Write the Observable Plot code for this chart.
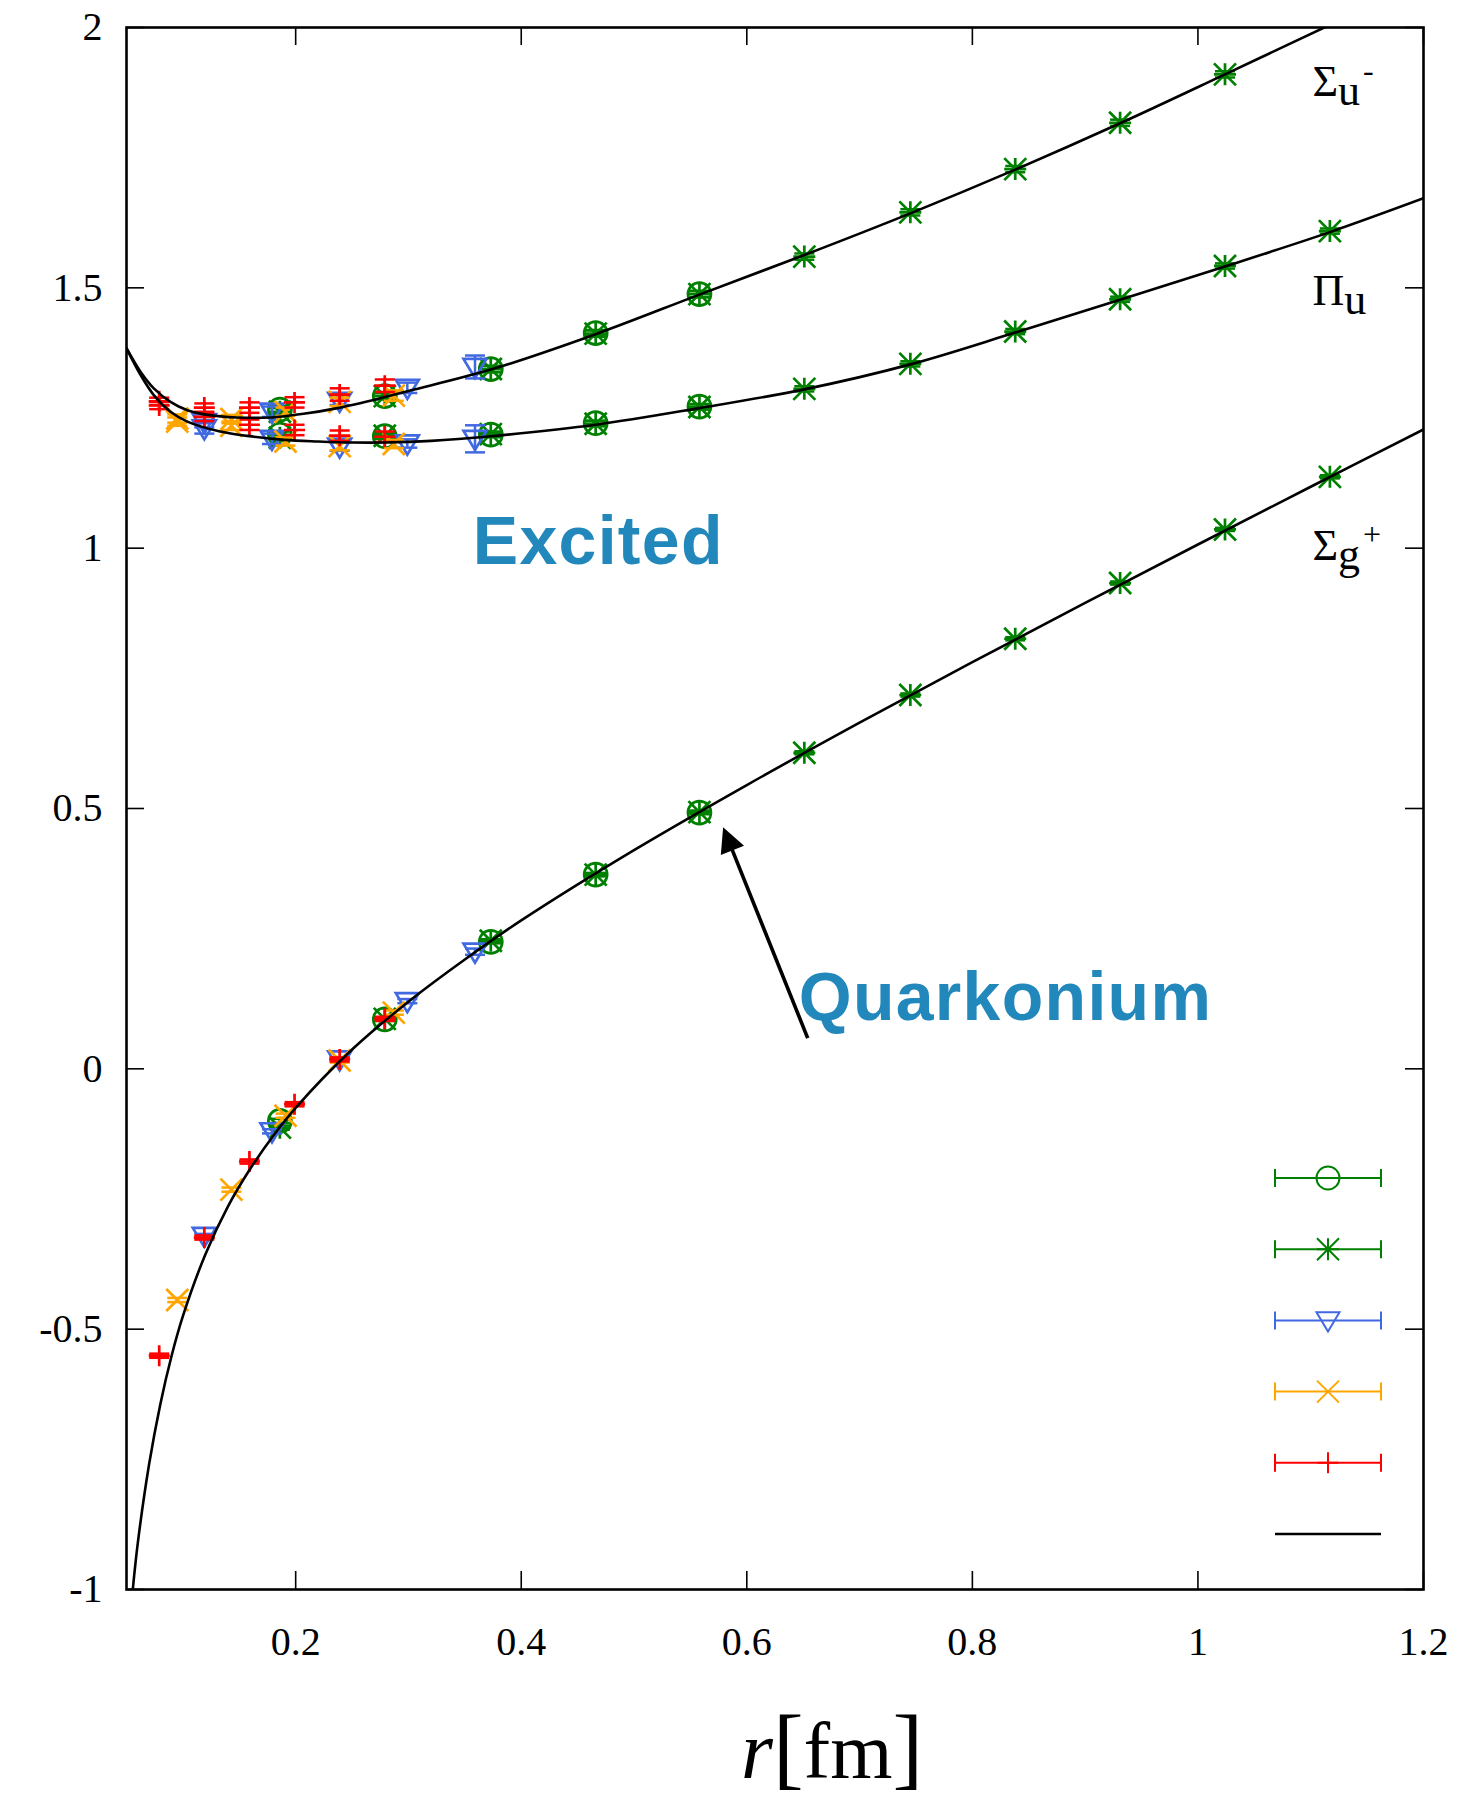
<!DOCTYPE html>
<html>
<head>
<meta charset="utf-8">
<script src="https://cdn.jsdelivr.net/npm/d3@7"></script>
<script src="https://cdn.jsdelivr.net/npm/@observablehq/plot@0.6"></script>
<style>
  html, body { margin: 0; padding: 0; background: #fff; }
  #chart svg { display: block; }
</style>
</head>
<body>
<div id="chart"></div>
<script>
// ---------------- data ----------------
const xTicks = [0.2, 0.4, 0.6, 0.8, 1, 1.2];
const yTicks = [-1, -0.5, 0, 0.5, 1, 1.5, 2];

// green open circles
const circR     = [0.186, 0.279, 0.373, 0.466, 0.558];
const circSg    = [-0.100, 0.095, 0.244, 0.373, 0.492];
const circPi    = [1.218, 1.215, 1.218, 1.240, 1.272];
const circSu    = [1.266, 1.292, 1.344, 1.413, 1.488];
const circErrSg = [0.004, 0.003, 0.003, 0.003, 0.003];
const circErrPi = [0.006, 0.005, 0.005, 0.005, 0.005];
const circErrSu = [0.007, 0.006, 0.006, 0.006, 0.006];

// green asterisks
const starR     = [0.186, 0.279, 0.373, 0.466, 0.558, 0.651, 0.745, 0.838, 0.931, 1.024, 1.117];
const starSg    = [-0.113, 0.096, 0.246, 0.373, 0.493, 0.607, 0.718, 0.826, 0.933, 1.036, 1.137];
const starPi    = [1.212, 1.216, 1.219, 1.239, 1.271, 1.306, 1.354, 1.416, 1.478, 1.542, 1.609];
const starSu    = [1.262, 1.292, 1.344, 1.412, 1.488, 1.560, 1.645, 1.728, 1.817, 1.910, null];
const starErrSg = [0.004, 0.003, 0.003, 0.003, 0.003, 0.003, 0.003, 0.003, 0.003, 0.003, 0.003];
const starErrPi = [0.006, 0.005, 0.005, 0.005, 0.005, 0.005, 0.005, 0.005, 0.005, 0.005, 0.005];
const starErrSu = [0.007, 0.006, 0.006, 0.006, 0.006, 0.006, 0.006, 0.006, 0.006, 0.006, 0.006];

// blue down-triangles
const triR      = [0.119, 0.179, 0.239, 0.299, 0.359];
const triSg     = [-0.321, -0.120, 0.018, 0.130, 0.225];
const triPi     = [1.230, 1.210, 1.195, 1.201, 1.210];
const triSu     = [1.242, 1.262, 1.283, 1.308, 1.348];
const triErrSg  = [0.004, 0.004, 0.004, 0.004, 0.006];
const triErrPi  = [0.010, 0.010, 0.008, 0.008, 0.026];
const triErrSu  = [0.010, 0.010, 0.008, 0.010, 0.022];

// orange crosses
const xR        = [0.095, 0.143, 0.191, 0.239, 0.287];
const xSg       = [-0.444, -0.232, -0.090, 0.016, 0.108];
const xPi       = [1.243, 1.235, 1.205, 1.196, 1.200];
const xSu       = [1.249, 1.248, 1.262, 1.281, 1.293];
const xErrSg    = [0.004, 0.004, 0.004, 0.004, 0.004];
const xErrPi    = [0.008, 0.008, 0.008, 0.008, 0.008];
const xErrSu    = [0.008, 0.008, 0.008, 0.008, 0.010];

// red pluses
const plusR     = [0.079, 0.119, 0.159, 0.199, 0.239, 0.279];
const plusSg    = [-0.551, -0.324, -0.178, -0.068, 0.018, 0.096];
const plusPi    = [1.274, 1.252, 1.237, 1.227, 1.216, 1.214];
const plusSu    = [1.282, 1.270, 1.270, 1.280, 1.295, 1.312];
const plusErrSg = [0.004, 0.004, 0.004, 0.004, 0.004, 0.004];
const plusErrPi = [0.007, 0.008, 0.010, 0.010, 0.010, 0.010];
const plusErrSu = [0.007, 0.008, 0.010, 0.010, 0.012, 0.012];

// fitted curves
const sgCurveR = [0.055, 0.06, 0.07, 0.08, 0.09, 0.10, 0.12, 0.14, 0.16, 0.18, 0.20, 0.25, 0.30, 0.35, 0.40, 0.50, 0.60, 0.70, 0.80, 0.90, 1.00, 1.10, 1.20];
const sgCurveV = [-1.013, -0.911, -0.760, -0.644, -0.551, -0.475, -0.356, -0.264, -0.191, -0.129, -0.075, 0.037, 0.129, 0.210, 0.285, 0.420, 0.545, 0.665, 0.781, 0.895, 1.007, 1.118, 1.228];

const piCurveR = [0.05, 0.0624, 0.0742, 0.089, 0.104, 0.133, 0.163, 0.19, 0.22, 0.25, 0.28, 0.32, 0.373, 0.466, 0.558, 0.651, 0.745, 0.838, 0.931, 1.024, 1.117, 1.2];
const piCurveV = [1.384, 1.333, 1.294, 1.262, 1.243, 1.224, 1.214, 1.208, 1.205, 1.203, 1.203, 1.206, 1.215, 1.237, 1.269, 1.305, 1.353, 1.414, 1.477, 1.541, 1.607, 1.672];

const suCurveR = [0.05, 0.0624, 0.0742, 0.089, 0.104, 0.122, 0.148, 0.178, 0.207, 0.237, 0.275, 0.30, 0.373, 0.466, 0.558, 0.651, 0.745, 0.838, 0.931, 1.024, 1.117, 1.2];
const suCurveV = [1.384, 1.339, 1.307, 1.281, 1.265, 1.256, 1.251, 1.251, 1.258, 1.269, 1.288, 1.302, 1.343, 1.411, 1.487, 1.563, 1.643, 1.727, 1.816, 1.910, 2.005, 2.09];

// annotations (data coordinates)
const wordLabels  = ["Excited", "Quarkonium"];
const wordX       = [0.357, 0.646];
const wordY       = [0.970, 0.094];
const arrowFrom   = [0.654, 0.059];
const arrowTo     = [0.579, 0.464];
const stateNames  = ["Σ", "Π", "Σ"];
const stateSubs   = ["u", "u", "g"];
const stateSups   = ["-", "", "+"];
const stateX      = [1.102, 1.102, 1.102];
const stateY      = [1.868, 1.467, 0.977];

// ---------------- layout / styles ----------------
const W = 1461, H = 1798;
const mL = 126, mR = 38, mT = 27, mB = 209;
const plotW = W - mL - mR, plotH = H - mT - mB;
const green = "#008000", blue = "#4169e1", orange = "#ffa500", red = "#ff0000";
const serif = "'Liberation Serif', 'Times New Roman', serif";

function mkSym(fn) { return { draw(c, size) { fn(c, Math.sqrt(size / Math.PI)); } }; }
const symCircle  = mkSym((c, h) => { c.moveTo(h, 0); c.arc(0, 0, h, 0, 2 * Math.PI); });
const symPlus    = mkSym((c, h) => { c.moveTo(-h, 0); c.lineTo(h, 0); c.moveTo(0, -h); c.lineTo(0, h); });
const symTimes   = mkSym((c, h) => { c.moveTo(-h, -h); c.lineTo(h, h); c.moveTo(-h, h); c.lineTo(h, -h); });
const symStar    = mkSym((c, h) => { c.moveTo(-h, 0); c.lineTo(h, 0); c.moveTo(0, -h); c.lineTo(0, h);
                                     c.moveTo(-h, -h); c.lineTo(h, h); c.moveTo(-h, h); c.lineTo(h, -h); });
const symTriDown = mkSym((c, h) => { c.moveTo(-h, -0.7 * h); c.lineTo(h, -0.7 * h); c.lineTo(0, 0.96 * h); c.closePath(); });
const symCap     = mkSym((c, h) => { c.moveTo(-h, 0); c.lineTo(h, 0); });
const symHead    = { draw(c) { c.moveTo(0, 0); c.lineTo(-12.5, 25); c.lineTo(12.5, 25); c.closePath(); } };

const seriesDefs = [
  {color: green,  sym: symCircle,  r: 11.5, R: circR, states: [[circSg, circErrSg], [circPi, circErrPi], [circSu, circErrSu]]},
  {color: green,  sym: symStar,    r: 11,   R: starR, states: [[starSg, starErrSg], [starPi, starErrPi], [starSu, starErrSu]]},
  {color: blue,   sym: symTriDown, r: 11.5, R: triR,  states: [[triSg, triErrSg], [triPi, triErrPi], [triSu, triErrSu]]},
  {color: orange, sym: symTimes,   r: 11,   R: xR,    states: [[xSg, xErrSg], [xPi, xErrPi], [xSu, xErrSu]]},
  {color: red,    sym: symPlus,    r: 10.5, R: plusR, states: [[plusSg, plusErrSg], [plusPi, plusErrPi], [plusSu, plusErrSu]]}
];

function toRows(R, V, E) {
  return R.map((r, i) => ({r, v: V[i], e: E[i]})).filter(d => d.v != null);
}
const curveRows = (R, V) => R.map((r, i) => ({r, v: V[i]}));

const marks = [];
for (const s of seriesDefs) {
  const data = s.states.flatMap(([V, E]) => toRows(s.R, V, E));
  marks.push(
    Plot.ruleX(data, {x: "r", y1: d => d.v - d.e, y2: d => d.v + d.e, stroke: s.color, strokeWidth: 2.5}),
    Plot.dot(data, {x: "r", y: d => d.v - d.e, symbol: symCap, r: 10, stroke: s.color, fill: "none", strokeWidth: 2.5}),
    Plot.dot(data, {x: "r", y: d => d.v + d.e, symbol: symCap, r: 10, stroke: s.color, fill: "none", strokeWidth: 2.5}),
    Plot.dot(data, {x: "r", y: "v", symbol: s.sym, r: s.r, stroke: s.color, fill: "none", strokeWidth: 2.7})
  );
}
for (const [R, V] of [[sgCurveR, sgCurveV], [piCurveR, piCurveV], [suCurveR, suCurveV]]) {
  marks.push(Plot.line(curveRows(R, V), {x: "r", y: "v", curve: "catmull-rom", stroke: "black", strokeWidth: 2.6, clip: true}));
}

// arrow: shaft + filled head
const pxPerX = plotW / 1.15, pxPerY = plotH / 3;
const adx = (arrowTo[0] - arrowFrom[0]) * pxPerX, ady = -(arrowTo[1] - arrowFrom[1]) * pxPerY;
const alen = Math.hypot(adx, ady);
const angle = Math.atan2(adx, -ady) * 180 / Math.PI;
const shaftEnd = [arrowTo[0] - (arrowTo[0] - arrowFrom[0]) * 22 / alen, arrowTo[1] - (arrowTo[1] - arrowFrom[1]) * 22 / alen];
marks.push(
  Plot.link([0], {x1: () => arrowFrom[0], y1: () => arrowFrom[1], x2: () => shaftEnd[0], y2: () => shaftEnd[1], stroke: "black", strokeWidth: 3.6}),
  Plot.dot([0], {x: () => arrowTo[0], y: () => arrowTo[1], symbol: symHead, r: 10, rotate: angle, fill: "black", stroke: "none"})
);

// word labels
marks.push(Plot.text(wordLabels, {
  x: (d, i) => wordX[i], y: (d, i) => wordY[i], text: d => d,
  fontSize: 68, fontWeight: "bold", fontFamily: "'Liberation Sans', Arial, sans-serif",
  fill: "#2288bb", textAnchor: "start", lineAnchor: "bottom"
}));

// inward ticks on all four sides
marks.push(
  Plot.tickX(xTicks, {x: d => d, insetTop: plotH - 18, stroke: "black", strokeWidth: 1.6}),
  Plot.tickX(xTicks, {x: d => d, insetBottom: plotH - 18, stroke: "black", strokeWidth: 1.6}),
  Plot.tickY(yTicks, {y: d => d, insetRight: plotW - 18, stroke: "black", strokeWidth: 1.6}),
  Plot.tickY(yTicks, {y: d => d, insetLeft: plotW - 18, stroke: "black", strokeWidth: 1.6}),
  Plot.axisX(xTicks, {tickSize: 0, tickPadding: 37, tickFormat: d => String(d), fontSize: 40, fontFamily: serif, label: null}),
  Plot.axisY(yTicks, {tickSize: 0, tickPadding: 24, tickFormat: d => String(d), fontSize: 40, fontFamily: serif, label: null}),
  Plot.frame({stroke: "black", strokeWidth: 2.6})
);

const plot = Plot.plot({
  width: W, height: H,
  marginLeft: mL, marginRight: mR, marginTop: mT, marginBottom: mB,
  x: {domain: [0.05, 1.2]},
  y: {domain: [-1, 2]},
  style: {background: "white", fontFamily: serif, fontSize: "40px", color: "black"},
  marks
});

// ---------- rich text (state labels, axis label) and key ----------
const svg = d3.select(plot);
const sx = plot.scale("x"), sy = plot.scale("y");

svg.selectAll("text").filter(function () { return wordLabels.includes(this.textContent); })
  .attr("letter-spacing", 1.3);

const lab = svg.append("g").attr("font-family", serif).attr("fill", "black").attr("text-anchor", "start");
stateNames.forEach((n, i) => {
  const t = lab.append("text").attr("text-anchor", "start")
    .attr("x", sx.apply(stateX[i])).attr("y", sy.apply(stateY[i])).attr("font-size", 44);
  t.append("tspan").text(n);
  t.append("tspan").attr("dy", 9).text(stateSubs[i]);
  if (stateSups[i]) t.append("tspan").attr("dy", -24).attr("dx", 3).attr("font-size", 32).text(stateSups[i]);
});

const xl = svg.append("text").attr("text-anchor", "start").attr("x", 741).attr("y", 1778)
  .attr("font-family", serif).attr("fill", "black");
xl.append("tspan").attr("font-size", 82).attr("font-style", "italic").text("r");
xl.append("tspan").attr("font-size", 92).text("[");
xl.append("tspan").attr("font-size", 80).text("fm");
xl.append("tspan").attr("font-size", 92).text("]");

// key (no text in the original)
const keyX1 = W - mR - 148, keyX2 = W - mR - 42, keyXm = (keyX1 + keyX2) / 2;
const keyY0 = H - mB - 411, keyStep = 71.2;
const key = svg.append("g").attr("fill", "none").attr("stroke-width", 2);
seriesDefs.forEach((s, i) => {
  const y = keyY0 + i * keyStep;
  const g = key.append("g").attr("stroke", s.color);
  g.append("line").attr("x1", keyX1).attr("x2", keyX2).attr("y1", y).attr("y2", y);
  g.append("line").attr("x1", keyX1).attr("x2", keyX1).attr("y1", y - 9).attr("y2", y + 9);
  g.append("line").attr("x1", keyX2).attr("x2", keyX2).attr("y1", y - 9).attr("y2", y + 9);
  g.append("path").attr("transform", `translate(${keyXm},${y})`)
    .attr("d", d3.symbol().type(s.sym).size(Math.PI * s.r * s.r)());
});
const yLine = keyY0 + seriesDefs.length * keyStep;
key.append("line").attr("x1", keyX1).attr("x2", keyX2).attr("y1", yLine).attr("y2", yLine)
  .attr("stroke", "black").attr("stroke-width", 2.6);

document.getElementById("chart").appendChild(plot);
</script>
</body>
</html>
